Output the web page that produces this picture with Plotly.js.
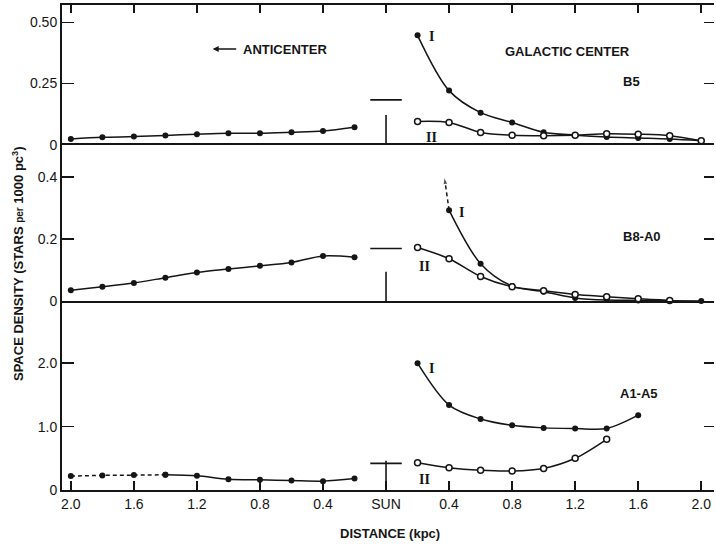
<!DOCTYPE html>
<html><head><meta charset="utf-8">
<script src="https://cdn.plot.ly/plotly-3.0.1.min.js"></script>
<style>html,body{margin:0;padding:0;background:#fff}</style>
</head><body><div id="chart" style="width:716px;height:546px"></div>
<script>
// ---- data (distances in kpc; anticenter side drawn to the left of the Sun) ----
const distAnti   = [2.0, 1.8, 1.6, 1.4, 1.2, 1.0, 0.8, 0.6, 0.4, 0.2];
const distCenter = [0.2, 0.4, 0.6, 0.8, 1.0, 1.2, 1.4, 1.6, 1.8, 2.0];

// B5
const b5Anti = [0.023, 0.030, 0.033, 0.038, 0.043, 0.047, 0.047, 0.051, 0.056, 0.071];
const b5I    = [0.447, 0.221, 0.131, 0.091, 0.051, 0.039, 0.031, 0.027, 0.023, 0.016];
const b5II   = [0.095, 0.091, 0.050, 0.039, 0.037, 0.039, 0.045, 0.043, 0.037, 0.016];

// B8-A0
const b8Anti = [0.036, 0.047, 0.059, 0.076, 0.093, 0.104, 0.114, 0.125, 0.146, 0.142];
const b8IDist  = [0.4, 0.6, 0.8, 1.0, 1.2, 1.4, 1.6, 1.8, 2.0];
const b8I      = [0.293, 0.121, 0.049, 0.031, 0.011, 0.004, 0.003, 0.002, 0.001];
const b8IIDist = [0.2, 0.4, 0.6, 0.8, 1.0, 1.2, 1.4, 1.6, 1.8];
const b8II     = [0.173, 0.137, 0.080, 0.047, 0.034, 0.022, 0.015, 0.008, 0.003];
const b8ArrowDist = [0.4, 0.37];
const b8ArrowVal  = [0.293, 0.40];

// A1-A5
const a1Anti = [0.22, 0.23, 0.235, 0.24, 0.225, 0.17, 0.16, 0.15, 0.14, 0.18];
const a1IDist  = [0.2, 0.4, 0.6, 0.8, 1.0, 1.2, 1.4, 1.6];
const a1I      = [2.00, 1.34, 1.12, 1.02, 0.98, 0.97, 0.97, 1.18];
const a1IIDist = [0.2, 0.4, 0.6, 0.8, 1.0, 1.2, 1.4];
const a1II     = [0.43, 0.35, 0.31, 0.30, 0.34, 0.50, 0.80];

// solar-neighbourhood values: [B5, B8-A0, A1-A5]
const sunLevel = [0.183, 0.170, 0.42];
const sunStem  = [0.121, 0.095, 0.46];

// axis ticks
const xTickVals = [-2.0, -1.6, -1.2, -0.8, -0.4, 0, 0.4, 0.8, 1.2, 1.6, 2.0];
const xTickText = ['2.0', '1.6', '1.2', '0.8', '0.4', 'SUN', '0.4', '0.8', '1.2', '1.6', '2.0'];
const y1TickVals = [0, 0.25, 0.5];  const y1TickText = ['0', '0.25', '0.50'];
const y2TickVals = [0, 0.2, 0.4];   const y2TickText = ['0', '0.2', '0.4'];
const y3TickVals = [0, 1.0, 2.0];   const y3TickText = ['0', '1.0', '2.0'];

// ---- styling ----
const INK = '#151515';
const FONT = 'Liberation Sans, Arial, Helvetica, sans-serif';
const neg = a => a.map(d => -d);

function curve(x, y, xa, ya, open, dash) {
  return {
    type: 'scatter', mode: 'lines+markers', x: x, y: y, xaxis: xa, yaxis: ya,
    line: {color: INK, width: 1.5, shape: 'spline', smoothing: 0.9, dash: dash || 'solid'},
    marker: open ? {symbol: 'circle', size: 6, color: '#fff', line: {color: INK, width: 1.5}}
                 : {symbol: 'circle', size: 6, color: INK},
    hoverinfo: 'skip', showlegend: false, cliponaxis: false
  };
}
function sunMarks(i, xa, ya) {
  const hw = 0.1;
  return [
    {type: 'scatter', mode: 'lines', x: [-hw, hw], y: [sunLevel[i], sunLevel[i]], xaxis: xa, yaxis: ya,
     line: {color: INK, width: 1.6}, hoverinfo: 'skip', showlegend: false},
    {type: 'scatter', mode: 'lines', x: [0, 0], y: [0, sunStem[i]], xaxis: xa, yaxis: ya,
     line: {color: INK, width: 1.6}, hoverinfo: 'skip', showlegend: false}
  ];
}
function ghost(ya) {
  return {type: 'scatter', mode: 'markers', x: [0], y: [0], xaxis: ya === 'y4' ? 'x3' : (ya === 'y5' ? 'x2' : 'x'),
          yaxis: ya, marker: {opacity: 0}, hoverinfo: 'skip', showlegend: false};
}

const traces = [
  // panel B5 (top)
  curve(neg(distAnti), b5Anti, 'x3', 'y3', false),
  curve(distCenter, b5I, 'x3', 'y3', false),
  curve(distCenter, b5II, 'x3', 'y3', true),
  ...sunMarks(0, 'x3', 'y3'),
  // panel B8-A0 (middle)
  curve(neg(distAnti), b8Anti, 'x2', 'y2', false),
  curve(b8IDist, b8I, 'x2', 'y2', false),
  curve(b8IIDist, b8II, 'x2', 'y2', true),
  {type: 'scatter', mode: 'lines+markers', x: b8ArrowDist, y: b8ArrowVal, xaxis: 'x2', yaxis: 'y2',
   line: {color: INK, width: 1.5, dash: '4px,3px'},
   marker: {symbol: 'arrow', angleref: 'previous', size: [0, 8], color: INK},
   hoverinfo: 'skip', showlegend: false, cliponaxis: false},
  ...sunMarks(1, 'x2', 'y2'),
  // panel A1-A5 (bottom)
  curve(neg(distAnti.slice(0, 4)), a1Anti.slice(0, 4), 'x', 'y', false, '4px,3px'),
  curve(neg(distAnti.slice(3)), a1Anti.slice(3), 'x', 'y', false),
  curve(a1IDist, a1I, 'x', 'y', false),
  curve(a1IIDist, a1II, 'x', 'y', true),
  ...sunMarks(2, 'x', 'y'),
  ghost('y4'), ghost('y5'), ghost('y6')
];

const xRange = [-2.056, 2.081];
const d3 = [0, 0.389], d2 = [0.389, 0.712], d1 = [0.712, 1];
const r3 = [0, 2.976], r2 = [0, 0.5035], r1 = [0, 0.571];
const tickFont = {family: FONT, size: 14, color: INK};

function yax(domain, range, vals, text, anchor) {
  return {domain: domain, range: range, anchor: anchor, showline: true, linewidth: 2, linecolor: INK,
          ticks: 'inside', ticklen: 12, tickwidth: 1.5, tickcolor: INK,
          tickvals: vals, ticktext: text, tickfont: tickFont, showgrid: false, zeroline: false, fixedrange: true};
}
function yRight(domain, range, vals, anchor, over) {
  return {domain: domain, range: range, anchor: anchor, overlaying: over, side: 'right', showline: false,
          ticks: 'inside', ticklen: 10, tickwidth: 1.5, tickcolor: INK, tickvals: vals.slice(1),
          showticklabels: false, showgrid: false, zeroline: false, fixedrange: true};
}

const layout = {
  width: 716, height: 546,
  margin: {l: 62, r: 2, t: 5, b: 56},
  paper_bgcolor: '#fff', plot_bgcolor: '#fff',
  font: {family: FONT, color: INK},
  xaxis: {domain: [0, 1], range: xRange, anchor: 'y', showline: true, linewidth: 2, linecolor: INK,
          ticks: 'inside', ticklen: 9, tickwidth: 1.5, tickcolor: INK,
          tickvals: xTickVals, ticktext: xTickText, tickfont: tickFont,
          showgrid: false, zeroline: false, fixedrange: true},
  xaxis2: {domain: [0, 1], range: xRange, anchor: 'y2', showline: true, mirror: true, linewidth: 2, linecolor: INK,
           ticks: '', showticklabels: false, showgrid: false, zeroline: false, fixedrange: true},
  xaxis3: {domain: [0, 1], range: xRange, anchor: 'y3', side: 'top', showline: true, linewidth: 2, linecolor: INK,
           ticks: 'inside', ticklen: 8, tickwidth: 1.5, tickcolor: INK, tickvals: xTickVals,
           showticklabels: false, showgrid: false, zeroline: false, fixedrange: true},
  yaxis: yax(d3, r3, y3TickVals, y3TickText, 'x'),
  yaxis2: yax(d2, r2, y2TickVals, y2TickText, 'x2'),
  yaxis3: yax(d1, r1, y1TickVals, y1TickText, 'x3'),
  yaxis4: yRight(d1, r1, y1TickVals, 'x3', 'y3'),
  yaxis5: yRight(d2, r2, y2TickVals, 'x2', 'y2'),
  yaxis6: yRight(d3, r3, y3TickVals, 'x', 'y'),
  annotations: [
    // panel B5
    {xref: 'x3', yref: 'y3', x: -1.10, y: 0.391, ax: 25, ay: 0, text: '', showarrow: true,
     arrowhead: 2, arrowsize: 0.8, arrowwidth: 1.5, arrowcolor: INK},
    {xref: 'x3', yref: 'y3', x: -0.644, y: 0.391, text: '<b>ANTICENTER</b>', showarrow: false, font: {size: 13}},
    {xref: 'x3', yref: 'y3', x: 1.152, y: 0.379, text: '<b>GALACTIC CENTER</b>', showarrow: false, font: {size: 13}},
    {xref: 'x3', yref: 'y3', x: 1.555, y: 0.26, text: '<b>B5</b>', showarrow: false, font: {size: 13}},
    {xref: 'x3', yref: 'y3', x: 0.286, y: 0.444, text: '<b>I</b>', showarrow: false, font: {family: 'Liberation Serif, serif', size: 14}},
    {xref: 'x3', yref: 'y3', x: 0.286, y: 0.031, text: '<b>II</b>', showarrow: false, font: {family: 'Liberation Serif, serif', size: 14}},
    // panel B8-A0
    {xref: 'x2', yref: 'y2', x: 0.482, y: 0.287, text: '<b>I</b>', showarrow: false, font: {family: 'Liberation Serif, serif', size: 14}},
    {xref: 'x2', yref: 'y2', x: 0.247, y: 0.113, text: '<b>II</b>', showarrow: false, font: {family: 'Liberation Serif, serif', size: 14}},
    {xref: 'x2', yref: 'y2', x: 1.621, y: 0.207, text: '<b>B8-A0</b>', showarrow: false, font: {size: 13}},
    // panel A1-A5
    {xref: 'x', yref: 'y', x: 0.286, y: 1.924, text: '<b>I</b>', showarrow: false, font: {family: 'Liberation Serif, serif', size: 14}},
    {xref: 'x', yref: 'y', x: 0.241, y: 0.158, text: '<b>II</b>', showarrow: false, font: {family: 'Liberation Serif, serif', size: 14}},
    {xref: 'x', yref: 'y', x: 1.602, y: 1.53, text: '<b>A1-A5</b>', showarrow: false, font: {size: 13}},
    // axis titles
    {xref: 'paper', yref: 'paper', x: 0.503, y: -0.0907, text: '<b>DISTANCE (kpc)</b>', showarrow: false,
     font: {size: 13}, yanchor: 'middle'},
    {xref: 'paper', yref: 'paper', x: -0.0675, y: 0.468, textangle: -90,
     text: '<b>SPACE DENSITY (STARS <span style="font-size:10px">per</span> 1000 pc<sup>3</sup>)</b>',
     showarrow: false, font: {size: 13}, xanchor: 'center', yanchor: 'middle'}
  ]
};

Plotly.newPlot('chart', traces, layout, {staticPlot: true, displayModeBar: false});
</script>
</body></html>
